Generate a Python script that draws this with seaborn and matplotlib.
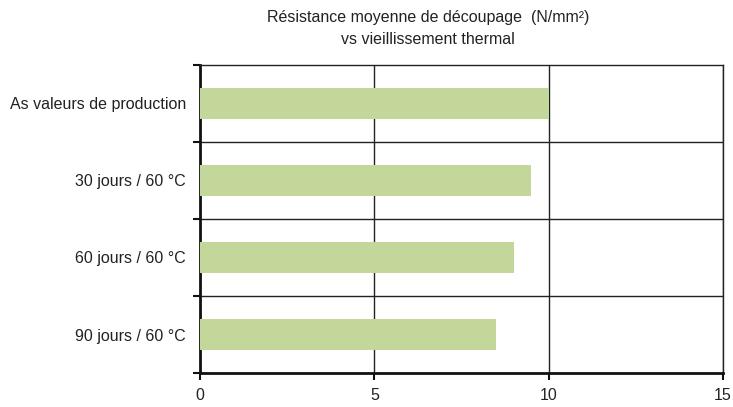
import matplotlib
matplotlib.use("Agg")
import matplotlib.pyplot as plt
import numpy as np
import pandas as pd
import seaborn as sns

# Chart data
categories = ["As valeurs de production", "30 jours / 60 °C", "60 jours / 60 °C", "90 jours / 60 °C"]
values = [10.0, 9.5, 9.0, 8.5]
x_ticks = [0, 5, 10, 15]

title = "Résistance moyenne de découpage  (N/mm²)\nvs vieillissement thermal"

sns.set_theme(style="white")
plt.rcParams["font.family"] = ["Liberation Sans", "DejaVu Sans"]

df = pd.DataFrame({"cat": categories, "val": values})

fig = plt.figure(figsize=(7.33, 4.07), dpi=100)
ax = fig.add_axes([0.273, 0.0835, 0.713, 0.757])

sns.barplot(data=df, x="val", y="cat", orient="h", color="#c4d79b",
            width=0.4, saturation=1, linewidth=0, ax=ax, zorder=3)

ax.set_xlim(0, 15)
ax.set_ylim(len(categories) - 0.5, -0.5)
ax.set_xlabel("")
ax.set_ylabel("")

# grid lines: vertical at major x ticks, horizontal between categories
for xv in x_ticks[1:]:
    ax.axvline(xv, color="#222222", lw=1.0, zorder=1)
for yb in np.arange(0.5, len(categories) - 0.5, 1):
    ax.axhline(yb, color="#222222", lw=1.0, zorder=1)

ax.set_xticks(x_ticks)
ax.set_xticklabels([str(t) for t in x_ticks], fontsize=11.5, color="#222222")
ax.tick_params(axis="x", direction="out", length=5, width=1.5, color="#111111",
               bottom=True, pad=6)

# y ticks at category boundaries, labels at category centres
ax.set_yticks(np.arange(-0.5, len(categories), 1))
ax.set_yticklabels([])
ax.set_yticks(np.arange(len(categories)), minor=True)
ax.set_yticklabels(categories, minor=True, fontsize=11.5, color="#222222")
ax.tick_params(axis="y", which="major", direction="out", length=5, width=1.5,
               color="#111111", left=True)
ax.tick_params(axis="y", which="minor", length=0, pad=10)

for side in ["top", "right"]:
    ax.spines[side].set_color("#222222")
    ax.spines[side].set_linewidth(1.0)
for side in ["left", "bottom"]:
    ax.spines[side].set_color("#111111")
    ax.spines[side].set_linewidth(2.0)

fig.text(0.584, 0.975, title, ha="center", va="top", fontsize=11.5,
         color="#222222", linespacing=1.6)

fig.savefig("out.png", dpi=100)
